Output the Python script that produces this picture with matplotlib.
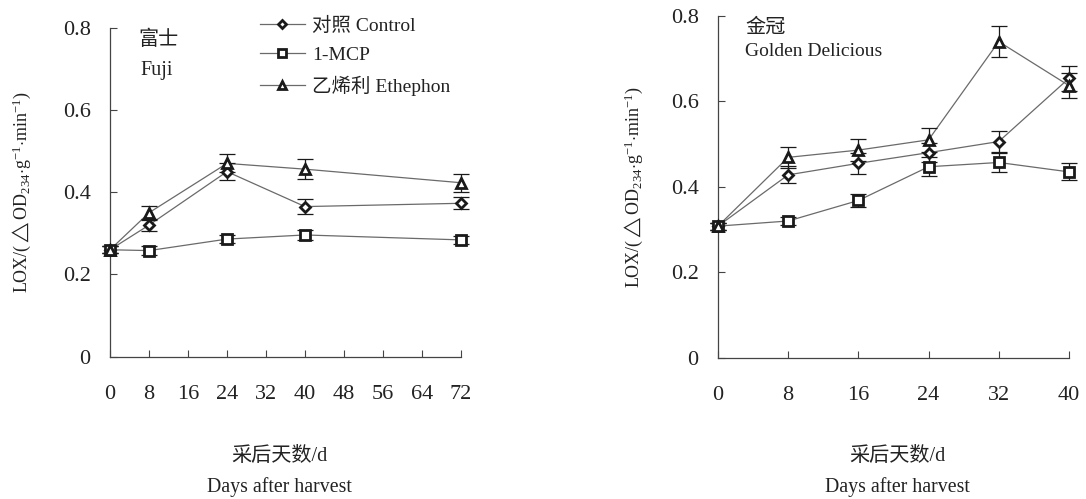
import matplotlib
matplotlib.use("Agg")
import matplotlib.pyplot as plt
from matplotlib.lines import Line2D

plt.rcParams['font.family'] = ['Liberation Serif', 'Noto Sans CJK SC', 'DejaVu Sans']
plt.rcParams['mathtext.fontset'] = 'custom'
plt.rcParams['mathtext.rm'] = 'Liberation Serif'
plt.rcParams['mathtext.it'] = 'Liberation Serif:italic'

# Fuji (富士)
fuji_days = [0, 8, 24, 40, 72]
fuji_control = [0.26, 0.32, 0.45, 0.365, 0.373]
fuji_control_err = [0.008, 0.015, 0.02, 0.018, 0.015]
fuji_mcp = [0.26, 0.258, 0.286, 0.296, 0.284]
fuji_mcp_err = [0.008, 0.01, 0.01, 0.012, 0.01]
fuji_eth = [0.26, 0.35, 0.47, 0.456, 0.423]
fuji_eth_err = [0.008, 0.017, 0.022, 0.024, 0.022]
fuji_xticks = [0, 8, 16, 24, 32, 40, 48, 56, 64, 72]

# Golden Delicious (金冠)
gd_days = [0, 8, 16, 24, 32, 40]
gd_control = [0.308, 0.428, 0.455, 0.48, 0.506, 0.654]
gd_control_err = [0.008, 0.02, 0.024, 0.022, 0.025, 0.03]
gd_mcp = [0.308, 0.32, 0.368, 0.447, 0.457, 0.435]
gd_mcp_err = [0.008, 0.01, 0.015, 0.022, 0.023, 0.02]
gd_eth = [0.308, 0.469, 0.486, 0.51, 0.74, 0.637]
gd_eth_err = [0.008, 0.025, 0.025, 0.028, 0.037, 0.03]
gd_xticks = [0, 8, 16, 24, 32, 40]

yticks = [0, 0.2, 0.4, 0.6, 0.8]
ytick_labels = ['0', '0.2', '0.4', '0.6', '0.8']

series_labels = ['对照 Control', '1-MCP', '乙烯利 Ethephon']
markers = ['D', 's', '^']
marker_sizes = [5.5, 6.5, 7]

ylabel = r'LOX/($\triangle$OD$_{234}$$\cdot$g$^{-1}$$\cdot$min$^{-1}$)'

fig = plt.figure(figsize=(10.86, 4.99), dpi=100)
ax1 = fig.add_axes([0.1013, 0.2852, 0.3232, 0.6593])
ax2 = fig.add_axes([0.6611, 0.2832, 0.3232, 0.6848])

line_color = '#6a6a6a'
mark_color = '#1a1a1a'
text_color = '#222222'


def draw_panel(ax, days, groups, xticks, xlim):
    for (vals, errs), mk, ms in zip(groups, markers, marker_sizes):
        ax.plot(days, vals, color=line_color, lw=0.9, zorder=2, clip_on=False)
        ax.errorbar(days, vals, yerr=errs, fmt='none', ecolor=mark_color,
                    elinewidth=0.9, capsize=6, capthick=0.9, zorder=3,
                    clip_on=False)
        ax.plot(days, vals, linestyle='none', marker=mk, ms=ms,
                mfc='white', mec=mark_color, mew=2.0, zorder=4, clip_on=False)
    ax.set_xlim(*xlim)
    ax.set_ylim(0, 0.8)
    ax.set_xticks(xticks)
    ax.set_yticks(yticks)
    ax.set_yticklabels(ytick_labels)
    for s in ['top', 'right']:
        ax.spines[s].set_visible(False)
    for s in ['left', 'bottom']:
        ax.spines[s].set_color('#444444')
        ax.spines[s].set_linewidth(0.9)
    ax.tick_params(direction='in', length=5, width=0.8, color='#444444',
                   labelsize=16, labelcolor=text_color)
    ax.tick_params(axis='x', pad=20.5)
    ax.tick_params(axis='y', pad=14)
    ax.set_ylabel(ylabel, fontsize=13, color=text_color)


draw_panel(ax1, fuji_days,
           [(fuji_control, fuji_control_err), (fuji_mcp, fuji_mcp_err),
            (fuji_eth, fuji_eth_err)],
           fuji_xticks, (0, 72))
draw_panel(ax2, gd_days,
           [(gd_control, gd_control_err), (gd_mcp, gd_mcp_err),
            (gd_eth, gd_eth_err)],
           gd_xticks, (0, 40))

ax1.yaxis.set_label_coords(-0.22, 0.5)
ax2.yaxis.set_label_coords(-0.208, 0.5)

# Panel titles
ax1.text(0.08, 0.963, '富士', transform=ax1.transAxes, fontsize=14.5,
         ha='left', va='center', color=text_color)
ax1.text(0.088, 0.871, 'Fuji', transform=ax1.transAxes, fontsize=14.5,
         ha='left', va='center', color=text_color)
ax2.text(0.077, 0.965, '金冠', transform=ax2.transAxes, fontsize=14.5,
         ha='left', va='center', color=text_color)
ax2.text(0.077, 0.895, 'Golden Delicious', transform=ax2.transAxes,
         fontsize=14, ha='left', va='center', color=text_color)

# Axis titles (Chinese + English), placed in figure coordinates
for cx in [0.257, 0.826]:
    fig.text(cx, 0.0862, '采后天数/d', fontsize=14.5,
             ha='center', va='center', color=text_color)
    fig.text(cx, 0.024, 'Days after harvest', fontsize=14.3,
             ha='center', va='center', color=text_color)

# Legend
handles = [Line2D([0], [0], color=line_color, lw=0.9, marker=mk, ms=ms * 0.8,
                  mfc='white', mec=mark_color, mew=2.0)
           for mk, ms in zip(markers, marker_sizes)]
leg = fig.legend(handles, series_labels, loc='upper left',
                 bbox_to_anchor=(0.2394, 0.967), frameon=False, fontsize=14,
                 handlelength=2.3, handletextpad=0.4, labelspacing=0.6,
                 borderpad=0, borderaxespad=0)
for t in leg.get_texts():
    t.set_color(text_color)

fig.savefig('out.png', dpi=100, facecolor='white')
